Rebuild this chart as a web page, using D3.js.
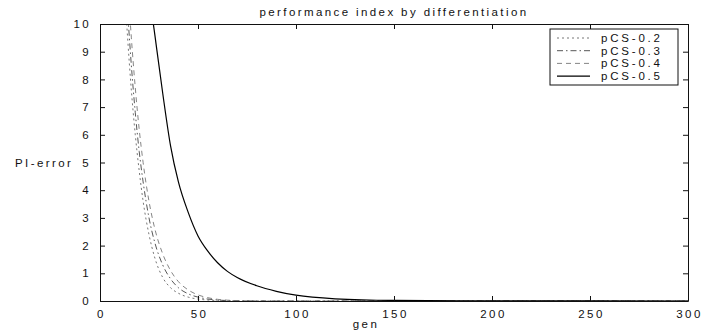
<!DOCTYPE html>
<html>
<head>
<meta charset="utf-8">
<script src="https://cdn.jsdelivr.net/npm/d3@7"></script>
<style>
  html, body { margin: 0; padding: 0; background: #fff; }
  svg text { font-family: "Liberation Sans", Arial, sans-serif; fill: #111; }
</style>
</head>
<body>
<svg id="chart" width="711" height="335"></svg>
<script>
// Generations at which the performance index was sampled
const gens = [12, 14, 16, 18, 20, 22, 25, 28, 32, 36, 40, 45, 50, 55, 60, 65, 70, 80, 90, 100, 120, 150, 200, 300];

// PI-error per crossover probability
const pcs02 = [12.0, 9.6, 7.6, 6.0, 4.7, 3.6, 2.4, 1.55, 0.85, 0.48, 0.28, 0.14, 0.07, 0.035, 0.015, 0.007, 0.003, 0.001, 0, 0, 0, 0, 0, 0];
const pcs03 = [13.2, 10.6, 8.5, 6.8, 5.4, 4.3, 3.0, 2.1, 1.3, 0.8, 0.48, 0.26, 0.14, 0.07, 0.035, 0.017, 0.008, 0.002, 0, 0, 0, 0, 0, 0];
const pcs04 = [14.5, 11.7, 9.5, 7.7, 6.2, 5.0, 3.6, 2.6, 1.7, 1.1, 0.7, 0.4, 0.22, 0.12, 0.06, 0.03, 0.015, 0.004, 0.001, 0, 0, 0, 0, 0];
const pcs05 = [25, 22, 19, 17, 15, 13.5, 11.2, 9.6, 7.5, 5.6, 4.3, 3.2, 2.35, 1.8, 1.38, 1.07, 0.85, 0.55, 0.35, 0.21, 0.08, 0.02, 0.003, 0];

const seriesNames = ["pCS-0.2", "pCS-0.3", "pCS-0.4", "pCS-0.5"];
const xTicks = [0, 50, 100, 150, 200, 250, 300];
const yTicks = [0, 1, 2, 3, 4, 5, 6, 7, 8, 9, 10];

const series = [
  { name: seriesNames[0], values: pcs02, dash: "2,3", color: "#666", width: 0.9 },
  { name: seriesNames[1], values: pcs03, dash: "6,3,1.5,3", color: "#444", width: 0.9 },
  { name: seriesNames[2], values: pcs04, dash: "5,4", color: "#777", width: 0.9 },
  { name: seriesNames[3], values: pcs05, dash: null, color: "#000", width: 1.2 }
];

const svg = d3.select("#chart");
const plotLeft = 100, plotRight = 688, plotTop = 24, plotBottom = 301;

const x = d3.scaleLinear().domain([0, 300]).range([plotLeft, plotRight]);
const y = d3.scaleLinear().domain([0, 10]).range([plotBottom, plotTop]);

const fontSize = "11.5px";
const spacing = "2.4px";

// Clip curves to the axes box
svg.append("defs").append("clipPath").attr("id", "plotClip")
  .append("rect").attr("x", plotLeft).attr("y", plotTop)
  .attr("width", plotRight - plotLeft).attr("height", plotBottom - plotTop);

// Curves
const line = d3.line()
  .x((d, i) => x(gens[i]))
  .y(d => y(d))
  .curve(d3.curveMonotoneX);

const curves = svg.append("g").attr("clip-path", "url(#plotClip)");
series.forEach(s => {
  curves.append("path")
    .attr("d", line(s.values))
    .attr("fill", "none")
    .attr("stroke", s.color)
    .attr("stroke-width", s.width)
    .attr("stroke-dasharray", s.dash);
});

// Axes with inward ticks on all four sides
const tickLen = 5;
const axisStyle = g => {
  g.select(".domain").attr("stroke", "#111").attr("stroke-width", 1);
  g.selectAll(".tick line").attr("stroke", "#111");
  g.selectAll("text")
    .style("font-size", fontSize)
    .style("letter-spacing", spacing)
    .attr("fill", "#111");
};

svg.append("g")
  .attr("transform", `translate(0,${plotBottom})`)
  .call(d3.axisBottom(x).tickValues(xTicks).tickSizeInner(-tickLen).tickSizeOuter(0).tickPadding(9))
  .call(axisStyle)
  .call(g => g.selectAll("text").attr("dx", "1px"));

svg.append("g")
  .attr("transform", `translate(0,${plotTop})`)
  .call(d3.axisTop(x).tickValues(xTicks).tickSizeInner(-tickLen).tickSizeOuter(0).tickFormat(""))
  .call(axisStyle);

svg.append("g")
  .attr("transform", `translate(${plotLeft},0)`)
  .call(d3.axisLeft(y).tickValues(yTicks).tickSizeInner(-tickLen).tickSizeOuter(0).tickPadding(9))
  .call(axisStyle);

svg.append("g")
  .attr("transform", `translate(${plotRight},0)`)
  .call(d3.axisRight(y).tickValues(yTicks).tickSizeInner(-tickLen).tickSizeOuter(0).tickFormat(""))
  .call(axisStyle);

// Title and axis labels
svg.append("text")
  .attr("x", (plotLeft + plotRight) / 2).attr("y", 16)
  .attr("text-anchor", "middle")
  .style("font-size", fontSize).style("letter-spacing", spacing)
  .text("performance index by differentiation");

svg.append("text")
  .attr("x", 366).attr("y", 328)
  .attr("text-anchor", "middle")
  .style("font-size", fontSize).style("letter-spacing", spacing)
  .text("gen");

svg.append("text")
  .attr("x", 15).attr("y", 167)
  .style("font-size", fontSize).style("letter-spacing", spacing)
  .text("PI-error");

// Legend
const legend = svg.append("g");
legend.append("rect")
  .attr("x", 550).attr("y", 29).attr("width", 128).attr("height", 56)
  .attr("fill", "#fff").attr("stroke", "#111").attr("stroke-width", 1);

series.forEach((s, i) => {
  const ly = 38 + i * 12.7;
  legend.append("line")
    .attr("x1", 557).attr("x2", 590).attr("y1", ly).attr("y2", ly)
    .attr("stroke", s.color).attr("stroke-width", s.width)
    .attr("stroke-dasharray", s.dash);
  legend.append("text")
    .attr("x", 601).attr("y", ly + 4)
    .style("font-size", fontSize).style("letter-spacing", "2.8px")
    .text(s.name);
});
</script>
</body>
</html>
